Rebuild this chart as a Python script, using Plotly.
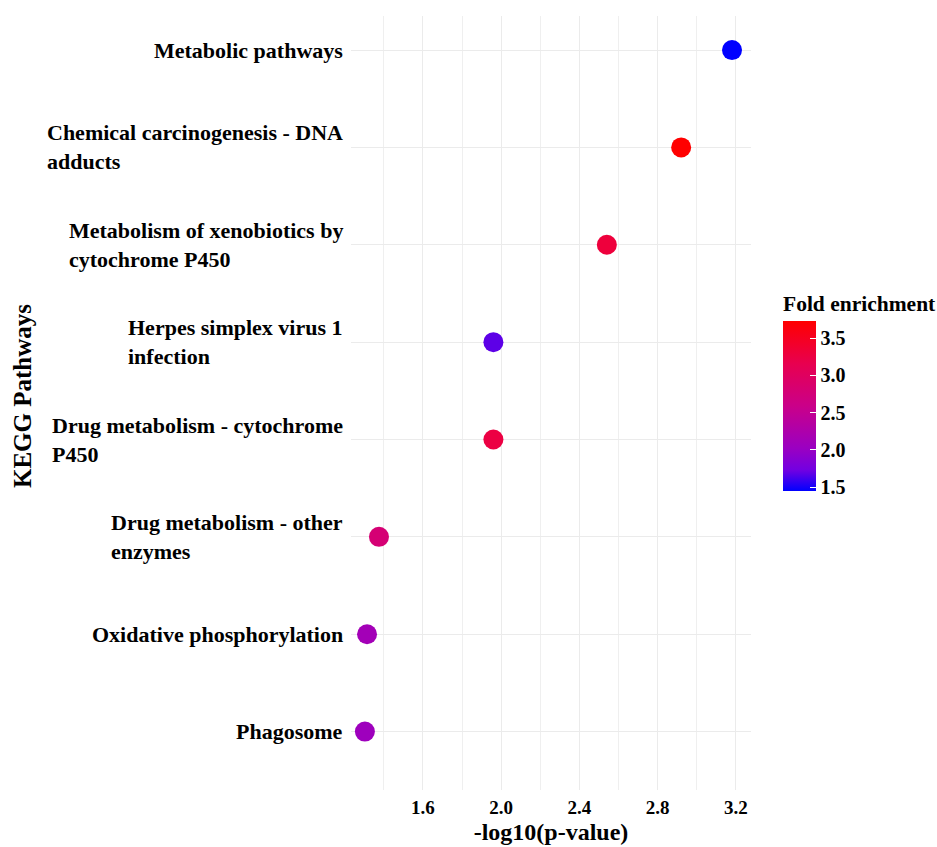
import plotly.graph_objects as go

pathways = [
    "Metabolic pathways",
    "Chemical carcinogenesis - DNA<br>adducts",
    "Metabolism of xenobiotics by<br>cytochrome P450",
    "Herpes simplex virus 1<br>infection",
    "Drug metabolism - cytochrome<br>P450",
    "Drug metabolism - other<br>enzymes",
    "Oxidative phosphorylation",
    "Phagosome",
]
neg_log10_p = [3.18, 2.92, 2.54, 1.96, 1.96, 1.375, 1.314, 1.303]
fold_enrichment = [1.45, 3.73, 3.30, 1.68, 3.25, 2.80, 2.13, 2.07]

x_ticks = [1.6, 2.0, 2.4, 2.8, 3.2]
cbar_ticks = [1.5, 2.0, 2.5, 3.0, 3.5]

# blue -> red gradient interpolated in Lab space (as ggplot does)
colorscale = [
    [0.0, "#0000FF"],
    [0.125, "#7300E1"],
    [0.25, "#9A00C2"],
    [0.5, "#CA0089"],
    [0.75, "#E8004F"],
    [1.0, "#FF0000"],
]

FONT = "Liberation Serif, Times New Roman, serif"

fig = go.Figure()
fig.add_trace(go.Scatter(
    x=neg_log10_p,
    y=pathways,
    mode="markers",
    marker=dict(
        size=20,
        color=fold_enrichment,
        colorscale=colorscale,
        showscale=True,
        colorbar=dict(
            title=dict(text="Fold enrichment", side="top",
                       font=dict(family=FONT, size=21.5, color="black", weight="bold")),
            x=1.08, xanchor="left",
            y=0.3863, yanchor="bottom", ypad=0, xpad=0,
            len=199, lenmode="pixels",
            thickness=33, thicknessmode="pixels",
            outlinewidth=0,
            tickvals=cbar_ticks,
            ticktext=[f"{v:.1f}" for v in cbar_ticks],
            ticks="inside", ticklen=6, tickcolor="white", tickwidth=1,
            tickfont=dict(family=FONT, size=20, color="black", weight="bold"),
        ),
        line=dict(width=0),
    ),
    showlegend=False,
    hovertemplate="%{y}<br>-log10(p)=%{x}<br>FE=%{marker.color}<extra></extra>",
))

for name in pathways:
    fig.add_annotation(
        x=0, xref="paper", xanchor="right", xshift=-6,
        y=name, yref="y", yanchor="middle",
        text=name, align="left", showarrow=False,
        font=dict(family=FONT, size=22, color="black", weight="bold"),
    )

fig.add_annotation(
    x=-0.8225, xref="paper", xanchor="center",
    y=0.509, yref="paper", yanchor="middle",
    text="KEGG Pathways", textangle=-90, showarrow=False,
    font=dict(family=FONT, size=25, color="black", weight="bold"),
)

fig.update_layout(
    width=937, height=847,
    margin=dict(l=351, r=186, t=16, b=57, autoexpand=False),
    paper_bgcolor="white", plot_bgcolor="white",
    font=dict(family=FONT, color="black"),
    xaxis=dict(
        range=[1.232, 3.277],
        tickvals=x_ticks,
        ticktext=[f"{v:.1f}" for v in x_ticks],
        showgrid=True, gridcolor="#EBEBEB", gridwidth=1.2,
        minor=dict(tickvals=[1.4, 1.8, 2.2, 2.6, 3.0], showgrid=True,
                   gridcolor="#EFEFEF", gridwidth=1),
        zeroline=False, showline=False, ticks="",
        ticklabelstandoff=4,
        tickfont=dict(family=FONT, size=19, color="black", weight="bold"),
        title=dict(text="-log10(p-value)", standoff=6,
                   font=dict(family=FONT, size=24, color="black", weight="bold")),
    ),
    yaxis=dict(
        type="category",
        categoryorder="array", categoryarray=pathways,
        range=[7.6, -0.35],
        showgrid=True, gridcolor="#EBEBEB", gridwidth=1.2,
        zeroline=False, showline=False, ticks="",
        showticklabels=False,
    ),
)

fig.write_html("out.html")
